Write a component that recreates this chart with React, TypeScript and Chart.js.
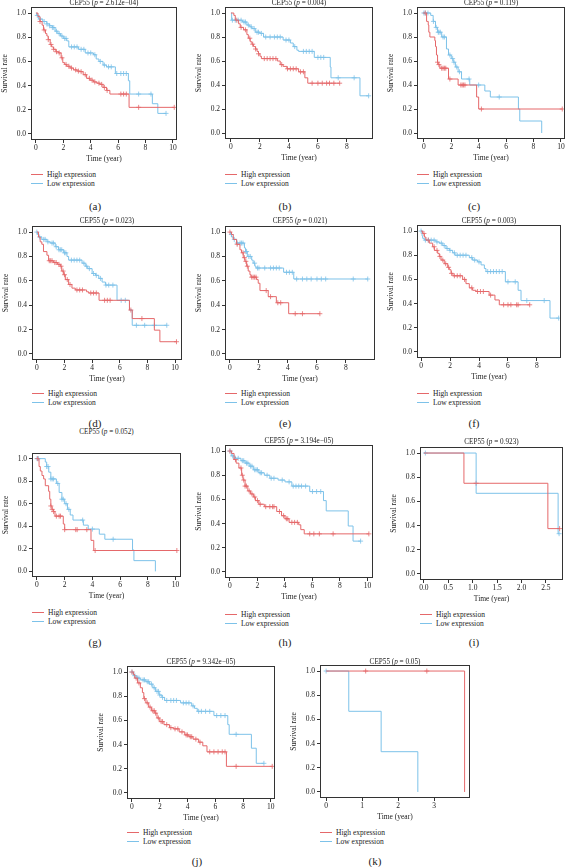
import React, { useEffect, useRef } from "react";
import { Chart, registerables } from "chart.js";
Chart.register(...registerables);

const RED = "#E5686A";
const BLUE = "#7DC2E9";
const INK = "#222";
const FONT = "'Liberation Serif', 'DejaVu Serif', serif";

// ---------- data (time of drop, survival after drop, censor times) ----------
const aHighT = [0.15, 0.3, 0.45, 0.55, 0.7, 0.8, 0.9, 1.04, 1.15, 1.28, 1.45, 1.65, 1.84, 1.96, 2.1, 2.25, 2.5, 2.74, 3.0, 3.2, 3.45, 3.7, 3.95, 4.2, 4.45, 4.67, 4.9, 5.16, 5.4, 6.8];
const aHighS = [0.97, 0.93, 0.9, 0.86, 0.83, 0.81, 0.78, 0.74, 0.72, 0.7, 0.68, 0.67, 0.63, 0.59, 0.575, 0.56, 0.545, 0.53, 0.52, 0.515, 0.49, 0.46, 0.445, 0.43, 0.42, 0.41, 0.385, 0.36, 0.33, 0.22];
const aHighC = [0.3, 0.6, 0.9, 1.1, 1.3, 1.5, 1.7, 1.9, 2.2, 2.4, 2.6, 2.9, 3.1, 3.3, 3.6, 3.9, 4.1, 4.3, 4.6, 4.8, 5.0, 5.2, 6.2, 6.4, 6.6, 7.5, 10.1];
const aLowT = [0.05, 0.2, 0.5, 0.8, 1.0, 1.2, 1.4, 1.6, 1.8, 2.0, 2.25, 2.4, 3.1, 3.6, 4.2, 4.4, 4.6, 4.9, 5.15, 5.8, 6.75, 6.85, 8.5, 8.9];
const aLowS = [0.98, 0.95, 0.93, 0.91, 0.895, 0.88, 0.85, 0.83, 0.81, 0.79, 0.77, 0.72, 0.7, 0.67, 0.655, 0.62, 0.6, 0.57, 0.555, 0.5, 0.44, 0.33, 0.25, 0.17];
const aLowC = [0.1, 0.3, 0.6, 0.8, 1.0, 1.2, 1.3, 1.5, 1.7, 1.9, 2.1, 2.2, 2.6, 2.8, 3.0, 3.3, 3.5, 3.8, 4.0, 4.3, 4.7, 5.0, 5.3, 5.5, 5.9, 6.2, 6.4, 6.6, 7.5, 8.4, 9.5];

const bHighT = [0.2, 0.3, 0.53, 0.64, 0.87, 1.1, 1.2, 1.33, 1.45, 1.56, 1.7, 1.8, 1.9, 2.0, 2.1, 3.2, 3.4, 3.6, 3.86, 4.67, 5.1, 5.3];
const bHighS = [0.98, 0.94, 0.91, 0.88, 0.86, 0.82, 0.79, 0.76, 0.74, 0.72, 0.7, 0.68, 0.66, 0.64, 0.62, 0.6, 0.57, 0.555, 0.535, 0.51, 0.46, 0.415];
const bHighC = [0.4, 0.7, 1.0, 1.3, 1.5, 1.7, 1.9, 2.3, 2.5, 2.7, 2.9, 3.1, 3.5, 3.9, 4.1, 4.3, 4.5, 4.8, 5.0, 5.6, 6.0, 6.3, 6.6, 6.8, 7.1, 7.5];
const bLowT = [0.05, 0.8, 1.1, 1.3, 1.45, 1.68, 2.0, 2.25, 3.6, 4.1, 4.3, 4.55, 4.67, 5.75, 6.85, 6.9, 8.9];
const bLowS = [0.94, 0.925, 0.9, 0.885, 0.87, 0.84, 0.83, 0.8, 0.775, 0.75, 0.72, 0.69, 0.68, 0.63, 0.55, 0.46, 0.31];
const bLowC = [0.1, 0.3, 0.5, 0.7, 0.9, 1.0, 1.2, 1.4, 1.6, 1.8, 1.9, 2.1, 2.4, 2.7, 3.0, 3.2, 3.4, 3.8, 4.0, 4.4, 5.0, 5.2, 5.4, 5.6, 6.0, 6.2, 6.4, 7.4, 8.5, 9.5];

const cHighT = [0.2, 0.32, 0.36, 0.44, 0.8, 0.85, 0.92, 1.0, 1.05, 1.17, 1.8, 2.5, 3.85, 4.0];
const cHighS = [0.93, 0.9, 0.84, 0.8, 0.77, 0.72, 0.65, 0.59, 0.57, 0.54, 0.45, 0.4, 0.3, 0.2];
const cHighC = [0.1, 1.0, 1.1, 1.3, 1.4, 1.5, 1.6, 1.9, 2.7, 2.8, 2.9, 3.0, 4.2, 10.1];
const cLowT = [0.5, 0.68, 0.85, 1.0, 1.3, 1.65, 1.8, 2.0, 2.14, 2.3, 2.5, 2.75, 3.35, 4.45, 4.85, 6.9, 7.0, 8.6];
const cLowS = [0.98, 0.93, 0.88, 0.84, 0.8, 0.7, 0.65, 0.62, 0.59, 0.55, 0.51, 0.45, 0.4, 0.35, 0.3, 0.2, 0.1, 0.0];
const cLowC = [0.0, 0.1, 0.3, 0.7, 0.9, 1.05, 1.1, 1.2, 1.4, 1.5, 1.9, 2.1, 2.2, 2.4, 2.6, 3.3, 4.0, 5.5];

const dHighT = [0.12, 0.24, 0.36, 0.48, 0.73, 0.85, 1.2, 1.5, 1.7, 1.8, 1.94, 2.06, 2.3, 2.54, 2.78, 3.6, 3.75, 4.5, 6.7, 6.9, 8.5, 8.9];
const dHighS = [0.96, 0.92, 0.9, 0.84, 0.81, 0.765, 0.75, 0.735, 0.72, 0.68, 0.65, 0.61, 0.57, 0.54, 0.525, 0.51, 0.5, 0.44, 0.36, 0.29, 0.195, 0.1];
const dHighC = [0.9, 1.0, 1.1, 1.3, 1.4, 1.6, 1.75, 1.9, 2.0, 2.2, 2.4, 2.9, 3.1, 3.3, 3.9, 4.1, 4.3, 4.9, 5.1, 5.3, 6.8, 7.6, 10.1];
const dLowT = [0.05, 0.12, 0.36, 0.73, 0.97, 1.33, 1.57, 1.94, 2.18, 2.3, 3.27, 3.5, 3.68, 4.0, 4.24, 4.48, 4.72, 4.96, 5.8, 6.7, 6.9];
const dLowS = [0.98, 0.96, 0.94, 0.92, 0.91, 0.88, 0.855, 0.83, 0.8, 0.77, 0.745, 0.72, 0.7, 0.66, 0.645, 0.62, 0.59, 0.565, 0.44, 0.36, 0.235];
const dLowC = [0.0, 0.2, 0.5, 0.6, 0.8, 1.1, 1.2, 1.4, 1.6, 1.7, 1.8, 2.0, 2.1, 2.5, 2.7, 2.9, 3.1, 3.4, 3.6, 3.8, 4.1, 4.3, 4.6, 5.0, 5.2, 5.5, 6.1, 6.4, 7.2, 7.8, 8.5, 9.4];

const eHighT = [0.11, 0.23, 0.46, 0.69, 0.8, 0.92, 1.03, 1.15, 1.26, 1.38, 1.45, 1.84, 1.95, 2.07, 2.64, 3.2, 4.05];
const eHighS = [0.98, 0.94, 0.9, 0.855, 0.83, 0.79, 0.76, 0.72, 0.68, 0.65, 0.63, 0.61, 0.58, 0.52, 0.47, 0.42, 0.33];
const eHighC = [0.0, 0.5, 0.9, 1.0, 1.1, 1.2, 1.5, 1.6, 1.7, 1.8, 2.5, 2.8, 3.3, 3.5, 4.5, 5.0, 6.2];
const eLowT = [0.05, 0.11, 0.23, 0.46, 1.0, 1.08, 1.2, 1.5, 1.6, 1.72, 1.8, 3.7, 4.4];
const eLowS = [0.98, 0.96, 0.94, 0.91, 0.87, 0.84, 0.8, 0.77, 0.745, 0.72, 0.705, 0.67, 0.615];
const eLowC = [0.1, 0.3, 0.5, 0.7, 0.8, 0.9, 1.1, 1.15, 1.3, 1.4, 1.7, 1.9, 2.0, 2.4, 2.8, 3.0, 3.2, 3.4, 3.9, 4.1, 4.3, 4.6, 5.0, 5.3, 5.6, 6.0, 6.3, 6.6, 8.5, 9.5];

const fHighT = [0.11, 0.23, 0.34, 0.57, 0.8, 0.92, 1.15, 1.26, 1.38, 1.6, 1.84, 1.95, 2.07, 2.2, 2.87, 3.1, 3.33, 3.56, 3.8, 4.7, 5.1, 5.4];
const fHighS = [0.98, 0.95, 0.925, 0.9, 0.87, 0.84, 0.815, 0.79, 0.76, 0.73, 0.7, 0.68, 0.65, 0.63, 0.6, 0.565, 0.53, 0.51, 0.5, 0.47, 0.43, 0.39];
const fHighC = [0.2, 0.5, 0.9, 1.1, 1.3, 1.5, 1.7, 1.9, 2.1, 2.3, 2.5, 2.7, 3.0, 3.5, 3.9, 4.1, 4.3, 4.8, 5.7, 6.0, 6.2, 6.6, 6.7, 7.5];
const fLowT = [0.07, 0.11, 0.23, 1.03, 1.26, 1.5, 1.72, 1.95, 2.18, 2.34, 3.33, 3.56, 3.9, 4.14, 4.37, 4.48, 5.82, 6.7, 6.9, 8.9];
const fLowS = [0.96, 0.94, 0.925, 0.91, 0.9, 0.88, 0.856, 0.84, 0.82, 0.8, 0.78, 0.76, 0.745, 0.72, 0.69, 0.665, 0.58, 0.51, 0.425, 0.28];
const fLowC = [0.0, 0.3, 0.5, 0.7, 0.9, 1.1, 1.4, 1.6, 1.8, 2.0, 2.3, 2.5, 2.7, 2.9, 3.1, 3.5, 3.7, 4.0, 4.6, 4.8, 5.0, 5.2, 5.4, 5.6, 6.0, 6.5, 7.3, 8.5, 9.5];

const gHighT = [0.15, 0.24, 0.36, 0.48, 0.6, 0.84, 0.92, 1.0, 1.08, 1.2, 1.3, 1.9, 2.0, 3.9, 4.1];
const gHighS = [0.93, 0.89, 0.85, 0.82, 0.76, 0.71, 0.64, 0.58, 0.55, 0.53, 0.49, 0.42, 0.37, 0.275, 0.185];
const gHighC = [0.05, 1.0, 1.1, 1.2, 1.4, 1.6, 1.7, 2.0, 2.8, 2.9, 3.6, 4.2, 10.1];
const gLowT = [0.6, 0.7, 0.85, 1.0, 1.4, 1.6, 1.8, 2.0, 2.2, 2.4, 2.6, 3.35, 3.7, 4.5, 4.9, 6.9, 7.0, 8.55];
const gLowS = [0.97, 0.93, 0.88, 0.82, 0.78, 0.7, 0.64, 0.6, 0.55, 0.5, 0.455, 0.41, 0.375, 0.33, 0.285, 0.19, 0.095, 0.0];
const gLowC = [0.0, 0.1, 0.7, 0.8, 1.0, 1.1, 1.2, 1.5, 1.8, 1.9, 2.1, 2.3, 3.3, 4.0, 5.5];

const hHighT = [0.12, 0.3, 0.45, 0.65, 0.85, 0.95, 1.1, 1.3, 1.5, 1.7, 1.85, 2.1, 2.5, 3.4, 3.75, 4.0, 4.3, 5.0, 5.15, 5.4];
const hHighS = [0.98, 0.93, 0.9, 0.86, 0.8, 0.76, 0.71, 0.67, 0.645, 0.62, 0.59, 0.56, 0.54, 0.5, 0.465, 0.44, 0.41, 0.39, 0.35, 0.315];
const hHighC = [0.0, 0.4, 0.8, 0.9, 1.0, 1.1, 1.2, 1.4, 1.6, 1.8, 2.0, 2.2, 2.6, 2.9, 3.1, 3.2, 3.6, 3.9, 4.1, 4.2, 4.5, 4.7, 4.9, 5.8, 6.1, 6.5, 7.5, 10.1];
const hLowT = [0.1, 0.3, 0.8, 1.1, 1.4, 1.7, 2.1, 2.5, 2.9, 3.5, 4.0, 4.5, 5.8, 6.8, 7.0, 8.6, 8.95];
const hLowS = [0.96, 0.94, 0.92, 0.9, 0.875, 0.845, 0.82, 0.8, 0.775, 0.76, 0.745, 0.71, 0.665, 0.59, 0.505, 0.38, 0.255];
const hLowC = [0.0, 0.2, 0.4, 0.6, 0.9, 1.0, 1.2, 1.3, 1.5, 1.6, 1.8, 1.9, 2.0, 2.2, 2.3, 2.7, 3.0, 3.2, 3.8, 4.3, 4.6, 4.8, 5.0, 5.2, 5.5, 6.0, 6.3, 6.6, 9.5];

const iHighT = [0.82, 2.54];
const iHighS = [0.75, 0.375];
const iHighC = [1.07, 2.78];
const iLowT = [1.07, 2.75];
const iLowS = [0.667, 0.333];
const iLowC = [0.03, 2.77];

const jHighT = [0.1, 0.2, 0.4, 0.6, 0.75, 0.85, 1.0, 1.2, 1.4, 1.65, 1.8, 2.0, 2.3, 2.7, 3.0, 3.4, 3.8, 4.1, 4.4, 4.8, 5.1, 5.4, 6.8];
const jHighS = [0.98, 0.95, 0.91, 0.87, 0.83, 0.78, 0.745, 0.71, 0.68, 0.66, 0.62, 0.59, 0.565, 0.54, 0.53, 0.505, 0.48, 0.465, 0.445, 0.42, 0.39, 0.34, 0.22];
const jHighC = [0.0, 0.3, 0.5, 0.9, 1.1, 1.3, 1.5, 1.6, 1.7, 1.9, 2.1, 2.2, 2.5, 2.8, 3.1, 3.3, 3.6, 3.9, 4.0, 4.2, 4.3, 4.6, 4.9, 5.6, 5.9, 6.2, 6.5, 6.7, 7.5, 10.1];
const jLowT = [0.1, 0.3, 0.6, 1.0, 1.25, 1.5, 1.7, 1.95, 2.15, 2.35, 3.5, 4.3, 4.5, 4.7, 5.9, 6.9, 7.0, 8.6, 8.95];
const jLowS = [0.97, 0.95, 0.935, 0.92, 0.9, 0.87, 0.84, 0.81, 0.79, 0.765, 0.745, 0.72, 0.7, 0.675, 0.64, 0.565, 0.485, 0.37, 0.245];
const jLowC = [0.0, 0.2, 0.4, 0.5, 0.8, 0.9, 1.1, 1.2, 1.4, 1.6, 1.8, 1.9, 2.0, 2.2, 2.5, 2.8, 3.0, 3.2, 3.7, 3.9, 4.1, 4.4, 4.8, 5.0, 5.3, 5.6, 6.1, 6.4, 6.7, 7.5, 9.5];

const kHighT = [3.85];
const kHighS = [0.0];
const kHighC = [1.1, 2.8];
const kLowT = [0.63, 1.53, 2.55];
const kLowS = [0.667, 0.333, 0.0];
const kLowC = [0.0];

// ---------- labels & ticks ----------
const pValues = ["2.612e−04", "0.004", "0.119", "0.023", "0.021", "0.003", "0.052", "3.194e−05", "0.923", "9.342e−05", "0.05"];
const panelLetters = ["a", "b", "c", "d", "e", "f", "g", "h", "i", "j", "k"];
const yTicks = [0, 0.2, 0.4, 0.6, 0.8, 1.0];
const xTicks10 = [0, 2, 4, 6, 8, 10];
const xTicks8 = [0, 2, 4, 6, 8];
const xTicksI = [0, 0.5, 1, 1.5, 2, 2.5];
const xTicksK = [0, 1, 2, 3];
const seriesNames = ["High expression", "Low expression"];

type Curve = { t: number[]; s: number[]; c: number[] };
const curves: { high: Curve; low: Curve; xTicks: number[]; dec: number }[] = [
  { high: { t: aHighT, s: aHighS, c: aHighC }, low: { t: aLowT, s: aLowS, c: aLowC }, xTicks: xTicks10, dec: 0 },
  { high: { t: bHighT, s: bHighS, c: bHighC }, low: { t: bLowT, s: bLowS, c: bLowC }, xTicks: xTicks8, dec: 0 },
  { high: { t: cHighT, s: cHighS, c: cHighC }, low: { t: cLowT, s: cLowS, c: cLowC }, xTicks: xTicks10, dec: 0 },
  { high: { t: dHighT, s: dHighS, c: dHighC }, low: { t: dLowT, s: dLowS, c: dLowC }, xTicks: xTicks10, dec: 0 },
  { high: { t: eHighT, s: eHighS, c: eHighC }, low: { t: eLowT, s: eLowS, c: eLowC }, xTicks: xTicks8, dec: 0 },
  { high: { t: fHighT, s: fHighS, c: fHighC }, low: { t: fLowT, s: fLowS, c: fLowC }, xTicks: xTicks8, dec: 0 },
  { high: { t: gHighT, s: gHighS, c: gHighC }, low: { t: gLowT, s: gLowS, c: gLowC }, xTicks: xTicks10, dec: 0 },
  { high: { t: hHighT, s: hHighS, c: hHighC }, low: { t: hLowT, s: hLowS, c: hLowC }, xTicks: xTicks10, dec: 0 },
  { high: { t: iHighT, s: iHighS, c: iHighC }, low: { t: iLowT, s: iLowS, c: iLowC }, xTicks: xTicksI, dec: 1 },
  { high: { t: jHighT, s: jHighS, c: jHighC }, low: { t: jLowT, s: jLowS, c: jLowC }, xTicks: xTicks10, dec: 0 },
  { high: { t: kHighT, s: kHighS, c: kHighC }, low: { t: kLowT, s: kLowS, c: kLowC }, xTicks: xTicksK, dec: 0 },
];

// ---------- layout (positions / sizes) ----------
type Box = { L: number; T: number; W: number; H: number; xMin: number; xMax: number; titleY: number; legY: number; labX: number; labY: number };
const layout: Box[] = [
  { L: 31, T: 7, W: 146, H: 133, xMin: -0.36, xMax: 10.3, titleY: 3, legY: 174, labX: 95, labY: 206 },
  { L: 225, T: 7, W: 148, H: 132, xMin: -0.41, xMax: 9.8, titleY: 3, legY: 174, labX: 285, labY: 206 },
  { L: 417, T: 7, W: 148, H: 132, xMin: -0.5, xMax: 10.3, titleY: 3, legY: 174, labX: 474, labY: 206 },
  { L: 32, T: 226, W: 150, H: 134, xMin: -0.35, xMax: 10.5, titleY: 221, legY: 393, labX: 95, labY: 423 },
  { L: 225, T: 226, W: 150, H: 134, xMin: -0.34, xMax: 10.0, titleY: 221, legY: 393, labX: 285, labY: 423 },
  { L: 417, T: 225, W: 144, H: 133, xMin: -0.28, xMax: 9.66, titleY: 221, legY: 393, labX: 474, labY: 423 },
  { L: 32, T: 453, W: 149, H: 124, xMin: -0.36, xMax: 10.4, titleY: 432, legY: 612, labX: 95, labY: 642 },
  { L: 225, T: 445, W: 148, H: 133, xMin: -0.36, xMax: 10.4, titleY: 441, legY: 614, labX: 285, labY: 642 },
  { L: 420, T: 447, W: 143, H: 133, xMin: -0.08, xMax: 2.85, titleY: 442, legY: 614, labX: 474, labY: 642 },
  { L: 127, T: 666, W: 148, H: 133, xMin: -0.36, xMax: 10.3, titleY: 662, legY: 832, labX: 197, labY: 861 },
  { L: 320, T: 665, W: 150, H: 133, xMin: -0.17, xMax: 4.0, titleY: 662, legY: 832, labX: 375, labY: 861 },
];

const PAD_T = 7;
const PAD_R = 4;
const YAXIS_W = 30;
const XAXIS_H = 24;

function survAt(cv: Curve, t: number) {
  let s = 1;
  for (let i = 0; i < cv.t.length; i++) if (cv.t[i] <= t) s = cv.s[i];
  return s;
}
function stepPoints(cv: Curve) {
  const pts = [{ x: 0, y: 1 }];
  cv.t.forEach((t, i) => pts.push({ x: t, y: cv.s[i] }));
  const lastT = cv.t.length ? cv.t[cv.t.length - 1] : 0;
  const end = Math.max(lastT, ...cv.c);
  if (end > lastT) pts.push({ x: end, y: cv.s.length ? cv.s[cv.s.length - 1] : 1 });
  return pts;
}
function censorPoints(cv: Curve) {
  return cv.c.map((t) => ({ x: t, y: survAt(cv, t) }));
}

const framePlugin = {
  id: "frame",
  afterDraw(chart: any) {
    const { ctx, chartArea } = chart;
    const l = Math.round(chartArea.left) + 0.5;
    const t = Math.round(chartArea.top) + 0.5;
    const r = Math.round(chartArea.right) - 0.5;
    const b = Math.round(chartArea.bottom) - 0.5;
    ctx.save();
    ctx.strokeStyle = "#333";
    ctx.lineWidth = 1;
    ctx.strokeRect(l, t, r - l, b - t);
    ctx.restore();
  },
};

function Panel({ idx }: { idx: number }) {
  const ref = useRef<HTMLCanvasElement>(null);
  const box = layout[idx];
  const cv = curves[idx];
  const cw = YAXIS_W + box.W + PAD_R;
  const ch = PAD_T + box.H + XAXIS_H;

  useEffect(() => {
    if (!ref.current) return;
    const tickFont = { family: FONT, size: 7.5 };
    const lineDs = (c: Curve, color: string) => ({
      data: stepPoints(c),
      borderColor: color,
      borderWidth: 1,
      stepped: "before" as const,
      pointRadius: 0,
      fill: false,
    });
    const censDs = (c: Curve, color: string) => ({
      data: censorPoints(c),
      showLine: false,
      pointStyle: "cross" as const,
      pointRadius: 2.5,
      pointBorderColor: color,
      pointBorderWidth: 0.8,
      borderColor: color,
      pointHoverRadius: 0,
    });
    const chart = new Chart(ref.current, {
      type: "line",
      data: {
        datasets: [
          lineDs(cv.high, RED),
          lineDs(cv.low, BLUE),
          censDs(cv.high, RED),
          censDs(cv.low, BLUE),
        ] as any,
      },
      options: {
        animation: false,
        responsive: false,
        events: [],
        layout: { padding: { left: 0, top: PAD_T, right: PAD_R, bottom: 0 } },
        plugins: { legend: { display: false }, tooltip: { enabled: false }, title: { display: false } },
        scales: {
          x: {
            type: "linear",
            min: box.xMin,
            max: box.xMax,
            afterBuildTicks: (s: any) => {
              s.ticks = cv.xTicks.map((v) => ({ value: v }));
            },
            afterFit: (s: any) => {
              s.height = XAXIS_H;
            },
            ticks: {
              autoSkip: false,
              maxRotation: 0,
              padding: 1,
              color: INK,
              font: tickFont,
              callback: (v: any) => Number(v).toFixed(cv.dec),
            },
            grid: { drawOnChartArea: false, drawTicks: true, tickLength: 3, color: "#333", lineWidth: 1 },
            border: { display: false },
            title: { display: true, text: "Time (year)", color: INK, font: { family: FONT, size: 7.5 }, padding: 0 },
          },
          y: {
            type: "linear",
            min: -0.05,
            max: 1.05,
            afterBuildTicks: (s: any) => {
              s.ticks = yTicks.map((v) => ({ value: v }));
            },
            afterFit: (s: any) => {
              s.width = YAXIS_W;
            },
            ticks: {
              autoSkip: false,
              padding: 2,
              color: INK,
              font: tickFont,
              callback: (v: any) => Number(v).toFixed(1),
            },
            grid: { drawOnChartArea: false, drawTicks: true, tickLength: 3, color: "#333", lineWidth: 1 },
            border: { display: false },
            title: { display: true, text: "Survival rate", color: INK, font: { family: FONT, size: 7.5 }, padding: 0 },
          },
        },
      },
      plugins: [framePlugin],
    } as any);
    return () => chart.destroy();
  }, []);

  const textBase: React.CSSProperties = { position: "absolute", fontFamily: FONT, color: INK, whiteSpace: "nowrap" };
  return (
    <>
      <canvas
        ref={ref}
        width={cw}
        height={ch}
        style={{ position: "absolute", left: box.L - YAXIS_W, top: box.T - PAD_T, width: cw, height: ch }}
      />
      <div
        style={{
          ...textBase,
          left: box.L + box.W / 2,
          top: box.titleY - 5,
          transform: "translateX(-50%)",
          fontSize: 7.2,
          lineHeight: "10px",
        }}
      >
        CEP55 (<i>p</i> = {pValues[idx]})
      </div>
      {[RED, BLUE].map((col, k) => (
        <div
          key={k}
          style={{
            ...textBase,
            left: box.L,
            top: box.legY + k * 9.5 - 5,
            height: 10,
            display: "flex",
            alignItems: "center",
            fontSize: 7.5,
          }}
        >
          <span style={{ display: "inline-block", width: 12, height: 1, background: col, marginRight: 4 }} />
          <span>{seriesNames[k]}</span>
        </div>
      ))}
      <div
        style={{
          ...textBase,
          left: box.labX,
          top: box.labY - 7,
          transform: "translateX(-50%)",
          fontSize: 11,
          lineHeight: "14px",
        }}
      >
        ({panelLetters[idx]})
      </div>
    </>
  );
}

export default function App() {
  return (
    <div
      style={{
        position: "absolute",
        left: 0,
        top: 0,
        width: 568,
        height: 867,
        background: "#fff",
        overflow: "hidden",
      }}
    >
      {layout.map((_, i) => (
        <Panel key={i} idx={i} />
      ))}
    </div>
  );
}
